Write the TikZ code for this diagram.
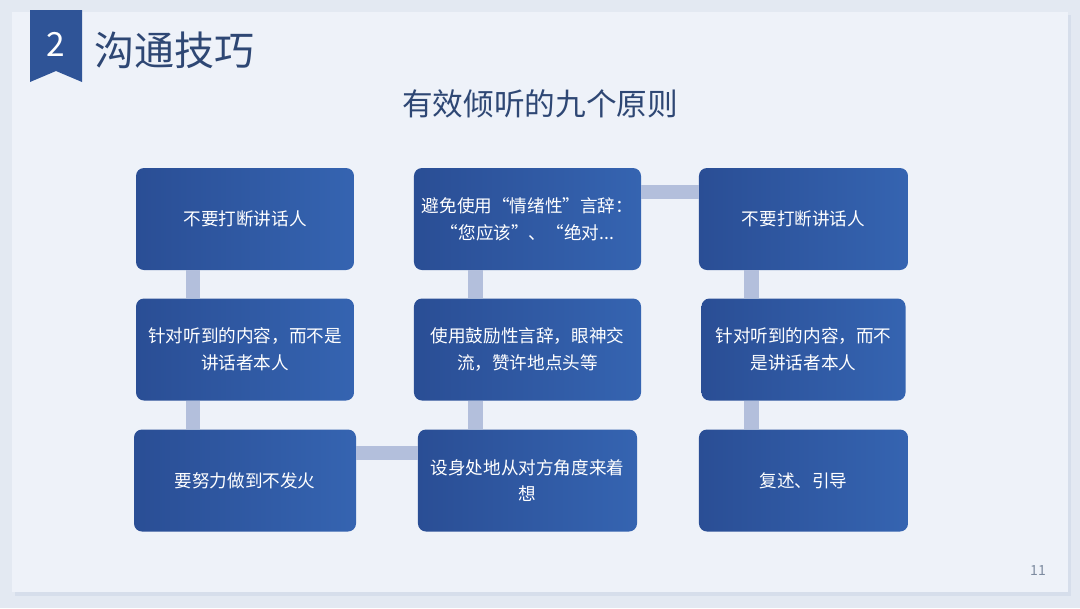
\documentclass[tikz,border=0pt]{standalone}
\usepackage{fontspec}
\setmainfont{Noto Sans CJK SC}
\usepackage{tikz}
\usetikzlibrary{positioning}

\definecolor{pagebg}{HTML}{E3E9F2}
\definecolor{cardbg}{HTML}{EEF2F9}
\definecolor{cardshadow}{HTML}{D6DEEB}
\definecolor{boxleft}{HTML}{2A4E95}
\definecolor{boxright}{HTML}{3564B1}
\definecolor{linkcol}{HTML}{B3BFDC}
\definecolor{titlecol}{HTML}{2E4774}
\definecolor{badgecol}{HTML}{2F5497}
\definecolor{pagenum}{HTML}{7D8BA0}

\tikzset{
  principle/.style={rounded corners=6pt, left color=boxleft, right color=boxright,
    text=white, align=center, font=\fontsize{13.2}{20}\selectfont,
    minimum height=76.5pt, inner sep=1pt},
  link/.style={linkcol, line width=11pt},
}

\begin{document}
\begin{tikzpicture}[x=0.75pt, y=-0.75pt]

    % Page and card
    \useasboundingbox (0,0) rectangle (1080,608);
    \fill[pagebg] (0,0) rectangle (1080,608);
    \fill[cardshadow] (15,15) rectangle (1071,596);
    \fill[cardbg] (12,12) rectangle (1068,592);

    % Badge and titles
    \fill[badgecol] (30,10) -- (82,10) -- (82,82) -- (56,71) -- (30,82) -- cycle;
    \node[text=white, font=\fontsize{25}{25}\selectfont] (badge) at (56,44) {2};
    \node[anchor=west, text=titlecol, font=\fontsize{30}{30}\selectfont] (title) at (90,50) {沟通技巧};
    \node[text=titlecol, font=\fontsize{23}{23}\selectfont] (subtitle) at (540,104) {有效倾听的九个原则};

    % Principles, column by column
    \node[principle, minimum width=163.5pt] (p1) at (245,219) {不要打断讲话人};
    \node[principle, minimum width=163.5pt] (p2) at (245,349.5) {针对听到的内容，而不是\\讲话者本人};
    \node[principle, minimum width=166.5pt] (p3) at (245,480.5) {要努力做到不发火};
    \node[principle, minimum width=164.3pt] (p4) at (527.5,480.5) {设身处地从对方角度来着\\想};
    \node[principle, minimum width=170.3pt] (p5) at (527.5,349.5) {使用鼓励性言辞，眼神交\\流，赞许地点头等};
    \node[principle, minimum width=170.3pt] (p6) at (527.5,219) {避免使用“情绪性”言辞：\\“您应该”、“绝对...};
    \node[principle, minimum width=156.8pt] (p7) at (803.5,219) {不要打断讲话人};
    \node[principle, minimum width=153pt] (p8) at (803.5,349.5) {针对听到的内容，而不\\是讲话者本人};
    \node[principle, minimum width=156.8pt] (p9) at (803.5,480.5) {复述、引导};

    % Links
    \foreach \a/\b in {p1/p2, p2/p3, p5/p4, p6/p5, p7/p8, p8/p9}
        \draw[link] ([xshift=-39pt]\a.south) -- ([xshift=-39pt]\b.north);
    \draw[link] ([yshift=20.6pt]p3.east) -- ([yshift=20.6pt]p4.west);
    \draw[link] ([yshift=20.3pt]p6.east) -- ([yshift=20.3pt]p7.west);

    % Page number
    \node[text=pagenum, font=\fontsize{10.5}{10.5}\selectfont] (num) at (1038,570) {11};

\end{tikzpicture}
\end{document}
